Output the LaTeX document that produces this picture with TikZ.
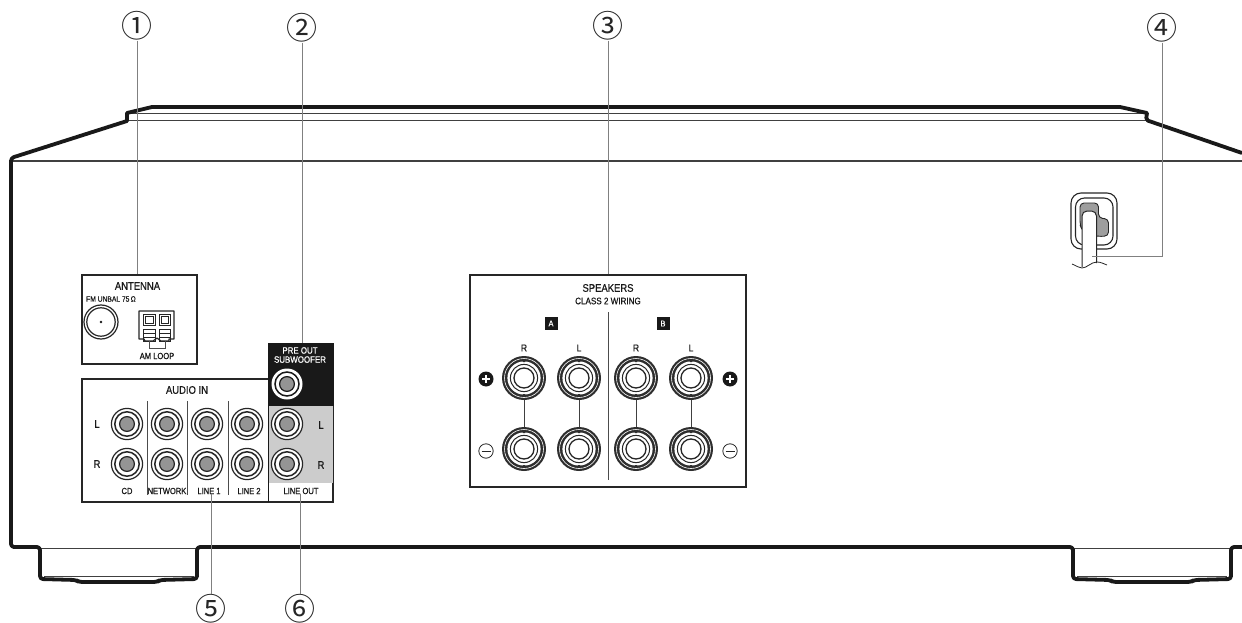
\documentclass[tikz,border=0pt]{standalone}
\usepackage{fontspec}
\setmainfont[FakeStretch=0.86,FakeBold=0.6]{Liberation Sans}
\newfontfamily\circfont{Noto Sans CJK JP}
\tikzset{
  body/.style={line width=3.8pt,draw=black!90,line join=round,rounded corners=2pt},
  thinline/.style={line width=1pt,draw=black!75},
  callout/.style={line width=1pt,draw=black!50},
  num/.style={font=\circfont\fontsize{31}{31}\selectfont,inner sep=0pt,text=black!85},
  panel/.style={draw=black!85,line width=1.2pt,fill=white,inner sep=0pt},
  lab/.style={inner sep=0pt,text=black!90,font=\fontsize{8.8}{9}\selectfont},
  bigl/.style={inner sep=0pt,text=black!90,font=\fontsize{11}{11.5}\selectfont},
  sep/.style={line width=.8pt,draw=black!70}
}
\newcommand{\rcajack}[2]{%
  \fill[white] (#1,#2) circle (16);
  \draw[black!85,line width=1.2pt] (#1,#2) circle (15.6);
  \draw[black!85,line width=1.5pt] (#1,#2) circle (12.2);
  \draw[black!85,line width=1.2pt,fill=black!42] (#1,#2) circle (7.4);
}
\newcommand{\spkjack}[2]{%
  \fill[black!82] (#1,#2) circle (22);
  \draw[white,line width=.6pt] (#1,#2) circle (19.5);
  \fill[white] (#1,#2) circle (16.6);
  \fill[black!82] (#1-1,#2-17.5) rectangle (#1+1,#2-16) (#1-1,#2+16) rectangle (#1+1,#2+17.5);
  \draw[black!85,line width=1pt] (#1,#2) circle (13.6);
  \draw[black!85,line width=1.3pt] (#1,#2) circle (10);
}
\begin{document}
\begin{tikzpicture}[x=1pt,y=-1pt]
\useasboundingbox (0,0) rectangle (1242,623);
\clip (0,0) rectangle (1242,623);
% thin body lines
\draw[thinline] (127,113.5) -- (1147,113.5);
\draw[thinline] (127,120.5) -- (1147,120.5);
\draw[thinline,line width=1.4pt] (11,161) -- (1242,161);
\draw[thinline] (40,548) -- (197,548);
\draw[thinline] (1073,548) -- (1231,548);
\draw[thinline] (44,576) -- (194,576);
\draw[thinline] (1077,576) -- (1227,576);
% body
\draw[body] (1242,153) -- (1146,120) [sharp corners] -- (1147,113) -- (1120,107) -- (152,107) -- (127,113) -- (127,121) [rounded corners=3pt] -- (11,158) -- (11,547) -- (40,547) -- (40,579) -- (76,580) -- (79,582) -- (157,582) -- (160,580) -- (197,579) -- (197,547) -- (1073,547) -- (1073,579) -- (1110,580) -- (1113,582) -- (1191,582) -- (1194,580) -- (1231,579) -- (1231,547) -- (1242,547);
% antenna panel
\node[panel,minimum width=115pt,minimum height=89pt] (antenna) at (139.5,319.5) {};
\node[bigl] (antt) at (137.5,286) {ANTENNA};
\node[lab,anchor=west,font=\fontsize{7.8}{8}\selectfont] (fm) at (86,299) {FM UNBAL 75\,Ω};
\draw[black!85,line width=1.2pt] (101,322) circle (17);
\draw[black!85,line width=1.2pt] (101,322) circle (14.2);
\fill[black!90] (101,322) circle (1.4);
% AM loop terminal
\draw[black!85,line width=1.2pt,line join=round] (139,311) -- (174,311) -- (174,339) -- (169,339) -- (169,341) -- (161,341) -- (157,338) -- (153,341) -- (145,341) -- (144,339) -- (139,339) -- cycle;
\draw[black!85,line width=.9pt] (143.5,314) rectangle (155,325);
\draw[black!85,line width=.9pt] (159,314) rectangle (170.5,325);
\draw[black!85,line width=.8pt,fill=white] (145.5,316) rectangle (153,323);
\draw[black!85,line width=.8pt,fill=white] (161,316) rectangle (168.5,323);
\draw[black!85,line width=.9pt] (143.5,329) rectangle (155,341);
\draw[black!85,line width=.9pt] (159,329) rectangle (170.5,341);
\draw[black!85,line width=.6pt] (143.5,333) -- (155,333) (143.5,337) -- (155,337) (159,333) -- (170.5,333) (159,337) -- (170.5,337);
\draw[black!70,line width=.7pt] (149,341) -- (149,348) -- (165,348) -- (165,341);
\node[lab] (amt) at (157,356) {AM LOOP};
% audio in panel
\node[panel,minimum width=251pt,minimum height=123pt] (audioin) at (207.5,440.5) {};
\fill[black!20] (269,406) rectangle (333,483);
\node[fill=black!90,minimum width=66pt,minimum height=63pt,inner sep=0pt] (sub) at (301,374.5) {};
\draw[black!90,line width=1.4pt] (268.5,406) -- (268.5,502);
\draw[black!85,line width=1.2pt] (333.5,406) -- (333.5,502);
\node[bigl] at (187,390) {AUDIO IN};
\node[lab,text=white,font=\fontsize{9.2}{9.6}\selectfont,align=center] (pre) at (300,355) {PRE OUT\\[-.5pt]SUBWOOFER};
\foreach \x in {147,187,228} \draw[sep] (\x,401) -- (\x,495);
\foreach \x in {127,167,207,247,287} {\rcajack{\x}{424}\rcajack{\x}{464}}
\fill[white] (287,384) circle (15.5);
\draw[black!90,line width=1.5pt] (287,384) circle (12);
\draw[black!90,line width=1.2pt,fill=black!42] (287,384) circle (7.4);
\node[bigl] at (97,424) {L};
\node[bigl] at (97,464) {R};
\node[bigl] at (321,425) {L};
\node[bigl] at (321,465) {R};
\node[lab] at (127,491) {CD};
\node[lab] (cnet) at (167,491) {NETWORK};
\node[lab] (line1) at (209,491) {LINE 1};
\node[lab] at (249,491) {LINE 2};
\node[lab] (lineout) at (301,491) {LINE OUT};
% speakers panel
\node[panel,minimum width=276pt,minimum height=212pt] (speakers) at (608,381) {};
\node[bigl] at (608,288) {SPEAKERS};
\node[lab,font=\fontsize{9.4}{9.8}\selectfont] at (608,301) {CLASS 2 WIRING};
\draw[sep] (608,312) -- (608,480);
\foreach \x/\t in {551/A,663/B}
  \node[fill=black!90,text=white,minimum size=13pt,inner sep=0pt,font=\fontsize{8.6}{9}\selectfont] at (\x,323.5) {\t};
\foreach \x/\t in {524/R,579/L,636/R,691/L} {
  \node[bigl,font=\fontsize{10}{10.5}\selectfont] at (\x,348) {\t};
  \draw[black!75,line width=.9pt] (\x,398) -- (\x,430);
  \spkjack{\x}{378}\spkjack{\x}{449}
}
\foreach \x in {486,730} {
  \fill[black!90] (\x,379) circle (7.5);
  \draw[white,line width=1.4pt] (\x-4,379) -- (\x+4,379) (\x,375) -- (\x,383);
  \draw[black!85,line width=.8pt] (\x,451) circle (7.2);
  \draw[black!85,line width=.8pt] (\x-4.5,451) -- (\x+4.5,451);
}
% power cord
\draw[black!85,line width=1.1pt,rounded corners=10pt] (1071,193) rectangle (1117,249);
\draw[black!85,line width=1.1pt,rounded corners=9pt] (1075.5,198) rectangle (1113,245);
\draw[black!85,line width=.9pt,fill=black!38,rounded corners=4pt] (1080,203) -- (1098.5,203) -- (1098.5,218) -- (1108.5,219) -- (1108.5,236) -- (1097,236.5) -- (1083,232) -- (1080,225) -- cycle;
\fill[white,rounded corners=5pt] (1082,272) -- (1082,211) -- (1096.5,211) -- (1096.5,272) -- cycle;
\draw[black!85,line width=1pt,rounded corners=5pt] (1082,267) -- (1082,211) -- (1096.5,211) -- (1096.5,263);
\draw[black!85,line width=.8pt] (1072,264) .. controls (1077,266) and (1079,268) .. (1082,268) .. controls (1087,268) and (1091,262) .. (1097,262) .. controls (1101,262) and (1104,264) .. (1107,265);
\coordinate (plug) at (1092,256);
% callouts
\node[num] (n1) at (137,26) {①};
\node[num] (n2) at (302,28) {②};
\node[num] (n3) at (608,26) {③};
\node[num] (n4) at (1162,28) {④};
\node[num] (n5) at (211,609) {⑤};
\node[num] (n6) at (300,609) {⑥};
\draw[callout] (n1.south) -- (n1.south |- antenna.north);
\draw[callout] (n2.south) -- (n2.south |- sub.north);
\draw[callout] (n3.south) -- (n3.south |- speakers.north);
\draw[callout] (n4.south) |- (plug);
\draw[callout] (n5.north) -- (n5.north |- line1.south);
\draw[callout] (n6.north) -- (n6.north |- lineout.south);
\end{tikzpicture}
\end{document}
